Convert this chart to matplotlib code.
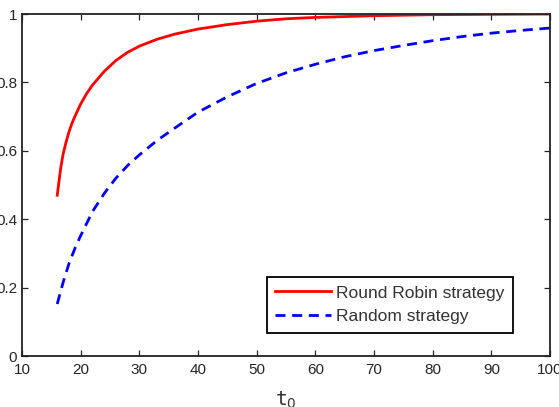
import matplotlib
matplotlib.use('Agg')
import matplotlib.pyplot as plt

plt.rcParams['font.family'] = ['Liberation Sans', 'DejaVu Sans']
plt.rcParams['mathtext.fontset'] = 'dejavusans'

# values
rr_t = [16, 16.3, 16.6, 17, 17.5, 18, 18.5, 19, 20, 21, 22, 24, 26, 28, 30, 33, 36, 40,
        45, 50, 55, 60, 70, 80, 90, 100]
rr_p = [0.47, 0.51, 0.55, 0.59, 0.625, 0.655, 0.68, 0.70, 0.737, 0.767, 0.792, 0.832,
        0.864, 0.888, 0.906, 0.926, 0.941, 0.956, 0.969, 0.979, 0.986, 0.990, 0.995,
        0.998, 0.999, 1.0]

rnd_t = [16, 17, 18, 19, 20, 22, 24, 26, 28, 30, 33, 36, 40, 45, 50, 55, 60, 65, 70,
         75, 80, 85, 90, 95, 100]
rnd_p = [0.152, 0.215, 0.27, 0.314, 0.352, 0.422, 0.475, 0.52, 0.557, 0.588, 0.63,
         0.666, 0.713, 0.758, 0.797, 0.828, 0.853, 0.875, 0.893, 0.908, 0.922, 0.934,
         0.944, 0.952, 0.959]

x_ticks = [10, 20, 30, 40, 50, 60, 70, 80, 90, 100]
y_ticks = [0, 0.2, 0.4, 0.6, 0.8, 1]
y_labels = ['0', '0.2', '0.4', '0.6', '0.8', '1']

fig = plt.figure(figsize=(5.59, 4.07), dpi=100)
ax = fig.add_axes([0.0394, 0.1253, 0.9445, 0.8403])

ax.plot(rr_t, rr_p, color='#ff0000', lw=2, label='Round Robin strategy')
ax.plot(rnd_t, rnd_p, color='#0000ff', lw=2, dashes=(3.6, 2.4), label='Random strategy')

ax.set_xlim(10, 100)
ax.set_ylim(0, 1)
ax.set_xticks(x_ticks)
ax.set_yticks(y_ticks)
ax.set_yticklabels(y_labels)
ax.tick_params(direction='in', top=True, right=True, length=4.5, width=0.9,
               labelsize=11, colors='#262626')
ax.tick_params(axis='x', pad=5)
ax.tick_params(axis='y', pad=3.5)
for s in ax.spines.values():
    s.set_linewidth(1.3)
    s.set_color('#222222')

ax.set_xlabel(r'$\mathtt{t}_{0}$', fontsize=14, labelpad=9.5, color='#333333')

leg = ax.legend(loc='lower right', bbox_to_anchor=(0.93, 0.067), borderaxespad=0,
                fontsize=12.5, handlelength=3.2, fancybox=False, framealpha=1,
                borderpad=0.5, labelspacing=0.5, handletextpad=0.3)
leg.get_frame().set_edgecolor('black')
leg.get_frame().set_linewidth(1.3)
for t in leg.get_texts():
    t.set_color('#333333')

fig.savefig('out.png', dpi=100)
